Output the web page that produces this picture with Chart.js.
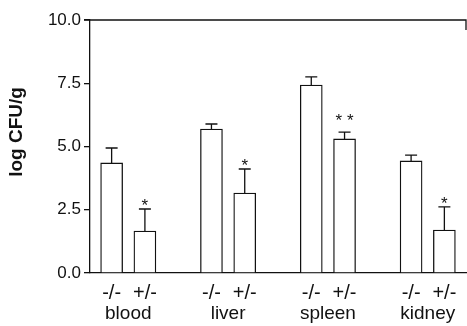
<!DOCTYPE html>
<html>
<head>
<meta charset="utf-8">
<script src="https://cdn.jsdelivr.net/npm/chart.js@4/dist/chart.umd.min.js"></script>
<style>
  body { margin: 0; background: #fff; }
  #wrap { width: 467px; height: 326px; }
</style>
</head>
<body>
<div id="wrap"><canvas id="canva"></canvas></div>
<script>
// data
var organs = ['blood', 'liver', 'spleen', 'kidney'];
var genotypes = ['-/-', '+/-'];
var knockout = [4.35, 5.69, 7.43, 4.43];      // -/-
var knockoutErr = [0.59, 0.20, 0.32, 0.23];
var hetero = [1.66, 3.16, 5.30, 1.70];        // +/-
var heteroErr = [0.87, 0.95, 0.27, 0.91];
var stars = ['*', '*', '**', '*'];
var yTicks = [0, 2.5, 5, 7.5, 10];

var FONT = '"Liberation Sans", Arial, Helvetica, sans-serif';

// each organ takes 3 slots on the x axis: -/-, +/-, gap
function slot(g, j) { return g * 3 + j; }

var koPoints = organs.map(function (o, g) { return { x: slot(g, 0), y: knockout[g] }; });
var hetPoints = organs.map(function (o, g) { return { x: slot(g, 1), y: hetero[g] }; });

var extras = {
  id: 'extras',
  afterDatasetsDraw: function (chart) {
    var c = chart.ctx, ys = chart.scales.y, xs = chart.scales.x, a = chart.chartArea;
    c.save();
    c.strokeStyle = '#111';
    c.fillStyle = '#111';
    c.lineWidth = 1.3;
    // error bars
    [knockoutErr, heteroErr].forEach(function (errs, d) {
      var vals = d === 0 ? knockout : hetero;
      chart.getDatasetMeta(d).data.forEach(function (bar, i) {
        var top = ys.getPixelForValue(vals[i] + errs[i]);
        c.beginPath();
        c.moveTo(bar.x, bar.y);
        c.lineTo(bar.x, top);
        c.moveTo(bar.x - 6, top);
        c.lineTo(bar.x + 6, top);
        c.stroke();
        if (d === 1) {
          c.font = '17px ' + FONT;
          c.textAlign = 'center';
          c.textBaseline = 'alphabetic';
          var dbl = stars[i] === '**';
          c.fillText(dbl ? '* *' : stars[i], bar.x, dbl ? top - 6 : top + 2);
        }
      });
    });
    // top frame line and small right edge
    c.beginPath();
    c.moveTo(a.left - 6, a.top);
    c.lineTo(a.right, a.top);
    c.lineTo(a.right, a.top + 10);
    c.stroke();
    // organ names
    c.font = '19px ' + FONT;
    c.textAlign = 'center';
    c.textBaseline = 'middle';
    organs.forEach(function (o, g) {
      c.fillText(o, xs.getPixelForValue(slot(g, 0.5)), 314);
    });
    // y title
    c.translate(17, 132);
    c.rotate(-Math.PI / 2);
    c.font = 'bold 19px ' + FONT;
    c.fillText('log CFU/g', 0, 0);
    c.restore();
  }
};

new Chart(document.getElementById('canva'), {
  type: 'bar',
  data: {
    datasets: [
      { label: genotypes[0], data: koPoints },
      { label: genotypes[1], data: hetPoints }
    ]
  },
  options: {
    responsive: true,
    maintainAspectRatio: false,
    animation: false,
    grouped: false,
    barThickness: 22,
    backgroundColor: '#fff',
    borderColor: '#111',
    borderWidth: 1.3,
    layout: { padding: { top: 20, right: 1, left: 0, bottom: 0 } },
    plugins: { legend: { display: false }, tooltip: { enabled: false } },
    scales: {
      x: {
        type: 'linear',
        offset: false,
        min: -0.65,
        max: 10.65,
        grid: { display: false },
        border: { display: true, color: '#111', width: 1.3 },
        afterBuildTicks: function (s) {
          var t = [];
          organs.forEach(function (o, g) { t.push({ value: slot(g, 0) }, { value: slot(g, 1) }); });
          s.ticks = t;
        },
        afterFit: function (s) { s.height = 53; },
        ticks: {
          autoSkip: false,
          maxRotation: 0,
          padding: 0,
          color: '#111',
          font: { family: FONT, size: 20 },
          callback: function (v) { return genotypes[v % 3]; }
        }
      },
      y: {
        min: 0,
        max: 10,
        afterBuildTicks: function (s) { s.ticks = yTicks.map(function (v) { return { value: v }; }); },
        afterFit: function (s) { s.width = 90; },
        grid: { drawOnChartArea: false, drawTicks: true, tickLength: 6, color: '#111', lineWidth: 1.3 },
        border: { display: true, color: '#111', width: 1.3 },
        ticks: {
          padding: 3,
          color: '#111',
          font: { family: FONT, size: 17 },
          callback: function (v) { return v.toFixed(1); }
        }
      }
    }
  },
  plugins: [extras]
});
</script>
</body>
</html>
